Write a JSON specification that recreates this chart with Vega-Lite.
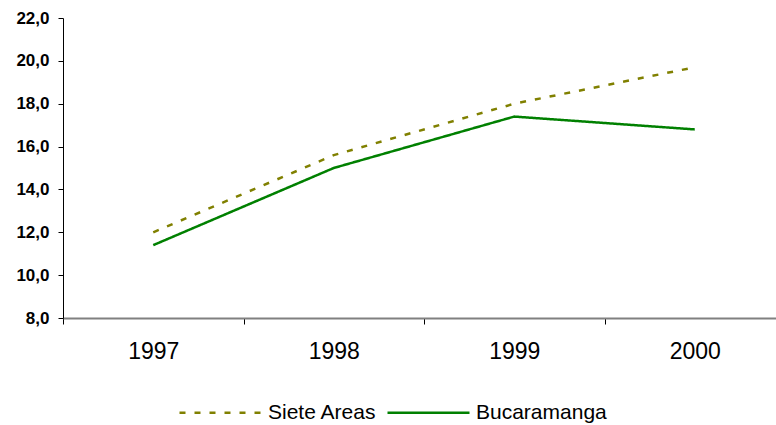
{
  "$schema": "https://vega.github.io/schema/vega-lite/v6.json",
  "autosize": {"type": "none"},
  "padding": {"left": 63, "top": 18, "right": 0, "bottom": 107},
  "width": 722,
  "height": 300,
  "background": "white",
  "config": {"view": {"stroke": null}},
  "data": {
    "values": [
      {"year": "1997", "series": "Siete Areas", "value": 12.0},
      {"year": "1998", "series": "Siete Areas", "value": 15.6},
      {"year": "1999", "series": "Siete Areas", "value": 18.0},
      {"year": "2000", "series": "Siete Areas", "value": 19.7},
      {"year": "1997", "series": "Bucaramanga", "value": 11.4},
      {"year": "1998", "series": "Bucaramanga", "value": 15.0},
      {"year": "1999", "series": "Bucaramanga", "value": 17.4},
      {"year": "2000", "series": "Bucaramanga", "value": 16.8}
    ]
  },
  "mark": {"type": "line", "strokeWidth": 2.5},
  "encoding": {
    "x": {
      "field": "year", "type": "ordinal",
      "scale": {"type": "band", "paddingInner": 0, "paddingOuter": 0},
      "axis": {
        "title": null, "labelAngle": 0, "tickBand": "extent",
        "domainColor": "#808080", "domainWidth": 2,
        "tickColor": "#000000", "tickSize": 6, "tickWidth": 1,
        "labelFont": "Liberation Sans", "labelFontSize": 23, "labelColor": "#000000",
        "labelPadding": 16
      }
    },
    "y": {
      "field": "value", "type": "quantitative",
      "scale": {"domain": [8, 22], "nice": false, "zero": false},
      "axis": {
        "title": null, "values": [8, 10, 12, 14, 16, 18, 20, 22], "grid": false,
        "labelExpr": "replace(format(datum.value, '.1f'), '.', ',')",
        "domainColor": "#000000", "domainWidth": 1,
        "tickColor": "#000000", "tickSize": 5,
        "labelFont": "Liberation Sans", "labelFontWeight": "bold", "labelFontSize": 17,
        "labelColor": "#000000", "labelPadding": 9
      }
    },
    "color": {
      "field": "series", "type": "nominal",
      "sort": ["Siete Areas", "Bucaramanga"],
      "scale": {"domain": ["Siete Areas", "Bucaramanga"], "range": ["#808000", "#008000"]},
      "legend": {
        "title": null, "orient": "none", "direction": "horizontal",
        "legendX": 115, "legendY": 352,
        "symbolType": "stroke", "symbolSize": 6724, "symbolStrokeWidth": 2.5,
        "labelFont": "Liberation Sans", "labelFontSize": 21, "labelColor": "#000000",
        "labelOffset": 5, "columnPadding": 5
      }
    },
    "strokeDash": {
      "field": "series", "type": "nominal",
      "scale": {"domain": ["Siete Areas", "Bucaramanga"], "range": [[6, 9], [1, 0]]},
      "legend": null
    }
  }
}
